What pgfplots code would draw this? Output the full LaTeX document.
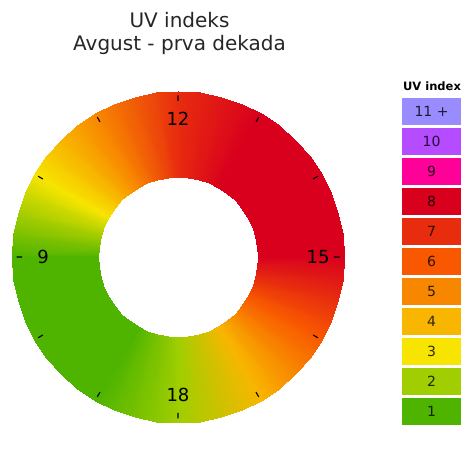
\documentclass[border=0pt]{standalone}
\usepackage{pgfplots}
\usepackage{pgfplotstable}
\pgfplotsset{compat=1.18}
\usepackage{fontspec}
\setmainfont{DejaVu Sans}

% UV index palette
\definecolor{uv1}{HTML}{4EB400}
\definecolor{uv2}{HTML}{A0CE00}
\definecolor{uv3}{HTML}{F7E400}
\definecolor{uv4}{HTML}{F8B600}
\definecolor{uv5}{HTML}{F88700}
\definecolor{uv6}{HTML}{F85900}
\definecolor{uv7}{HTML}{E82C0E}
\definecolor{uv8}{HTML}{D8001D}
\definecolor{uv9}{HTML}{FF0099}
\definecolor{uv10}{HTML}{B54CFF}
\definecolor{uv11}{HTML}{998CFF}
\definecolor{titlegray}{HTML}{262626}

% hourly UV index (the dial wraps: 6 sits where 18 does)
\pgfplotstableread{
h uv
6 2
7 1
8 1
9 1
10 3
11 5
12 7
13 8
14 8
15 8
16 6
17 4
18 2
}\uvdata

% ring geometry: hour position, radius (px)
\pgfplotstableread[row sep=\\]{
h r\\
6 80\\ 6 166\\ 6.25 80\\ 6.25 166\\ 6.5 80\\ 6.5 166\\ 6.75 80\\ 6.75 166\\
7 80\\ 7 166\\ 7.25 80\\ 7.25 166\\ 7.5 80\\ 7.5 166\\ 7.75 80\\ 7.75 166\\
8 80\\ 8 166\\ 8.25 80\\ 8.25 166\\ 8.5 80\\ 8.5 166\\ 8.75 80\\ 8.75 166\\
9 80\\ 9 166\\ 9.25 80\\ 9.25 166\\ 9.5 80\\ 9.5 166\\ 9.75 80\\ 9.75 166\\
10 80\\ 10 166\\ 10.25 80\\ 10.25 166\\ 10.5 80\\ 10.5 166\\ 10.75 80\\ 10.75 166\\
11 80\\ 11 166\\ 11.25 80\\ 11.25 166\\ 11.5 80\\ 11.5 166\\ 11.75 80\\ 11.75 166\\
12 80\\ 12 166\\ 12.25 80\\ 12.25 166\\ 12.5 80\\ 12.5 166\\ 12.75 80\\ 12.75 166\\
13 80\\ 13 166\\ 13.25 80\\ 13.25 166\\ 13.5 80\\ 13.5 166\\ 13.75 80\\ 13.75 166\\
14 80\\ 14 166\\ 14.25 80\\ 14.25 166\\ 14.5 80\\ 14.5 166\\ 14.75 80\\ 14.75 166\\
15 80\\ 15 166\\ 15.25 80\\ 15.25 166\\ 15.5 80\\ 15.5 166\\ 15.75 80\\ 15.75 166\\
16 80\\ 16 166\\ 16.25 80\\ 16.25 166\\ 16.5 80\\ 16.5 166\\ 16.75 80\\ 16.75 166\\
17 80\\ 17 166\\ 17.25 80\\ 17.25 166\\ 17.5 80\\ 17.5 166\\ 17.75 80\\ 17.75 166\\
18 80\\ 18 166\\
}\ringgeom

% colormap along the dial: colour of each hour's UV value
\def\ringmap{}
\pgfplotstableforeachcolumnelement{uv}\of\uvdata\as\uvval{%
  \pgfplotstablegetelem{\pgfplotstablerow}{h}\of\uvdata
  \xdef\ringmap{\ringmap color(\pgfplotsretval cm)=(uv\uvval) }%
}
\edef\tmp{\noexpand\pgfplotsset{colormap={uvring}{\ringmap}}}\tmp

\tikzset{
  legendnum/.style={font=\fontsize{14bp}{16bp}\selectfont, text=black, text opacity=0.8},
  hourlab/.style={font=\fontsize{18bp}{20bp}\selectfont},
}

\begin{document}
\begin{tikzpicture}
\begin{axis}[
  width=474bp, height=458bp, scale only axis,
  xmin=-178, xmax=296, ymin=-201, ymax=257,
  hide axis, clip=false,
  colormap name=uvring,
  point meta min=6, point meta max=18,
]
\addplot[surf, shader=interp, mesh/rows=49, mesh/cols=2, point meta=explicit]
  table[x expr={\thisrow{r}*cos(450-30*\thisrow{h})},
        y expr={\thisrow{r}*sin(450-30*\thisrow{h})},
        meta=h] {\ringgeom};

% hour ticks
\addplot[black, line width=1.1bp, unbounded coords=jump] coordinates {
  (0,156) (0,161.5) (nan,nan)
  (78,135.1) (80.75,139.86) (nan,nan)
  (135.1,78) (139.86,80.75) (nan,nan)
  (156,0) (161.5,0) (nan,nan)
  (135.1,-78) (139.86,-80.75) (nan,nan)
  (78,-135.1) (80.75,-139.86) (nan,nan)
  (0,-156) (0,-161.5) (nan,nan)
  (-78,-135.1) (-80.75,-139.86) (nan,nan)
  (-135.1,-78) (-139.86,-80.75) (nan,nan)
  (-156,0) (-161.5,0) (nan,nan)
  (-135.1,78) (-139.86,80.75) (nan,nan)
  (-78,135.1) (-80.75,139.86)
};

\node[hourlab] at (axis cs:0,138) {12};
\node[hourlab] at (axis cs:140,0) {15};
\node[hourlab] at (axis cs:0,-138) {18};
\node[hourlab] at (axis cs:-135,0) {9};

% title
\node[anchor=base, text=titlegray, font=\fontsize{20bp}{23bp}\selectfont] at (axis cs:1.5,229.7) {UV indeks};
\node[anchor=base, text=titlegray, font=\fontsize{20bp}{23bp}\selectfont] at (axis cs:1.5,206.3) {Avgust - prva dekada};

% legend boxes
\addplot[fill=uv11, draw=none] coordinates {(224,159) (283,159) (283,132) (224,132)};
\addplot[fill=uv10, draw=none] coordinates {(224,129) (283,129) (283,102) (224,102)};
\addplot[fill=uv9, draw=none] coordinates {(224,99) (283,99) (283,72) (224,72)};
\addplot[fill=uv8, draw=none] coordinates {(224,69) (283,69) (283,42) (224,42)};
\addplot[fill=uv7, draw=none] coordinates {(224,39) (283,39) (283,12) (224,12)};
\addplot[fill=uv6, draw=none] coordinates {(224,9) (283,9) (283,-18) (224,-18)};
\addplot[fill=uv5, draw=none] coordinates {(224,-21) (283,-21) (283,-48) (224,-48)};
\addplot[fill=uv4, draw=none] coordinates {(224,-51) (283,-51) (283,-78) (224,-78)};
\addplot[fill=uv3, draw=none] coordinates {(224,-81) (283,-81) (283,-108) (224,-108)};
\addplot[fill=uv2, draw=none] coordinates {(224,-111) (283,-111) (283,-138) (224,-138)};
\addplot[fill=uv1, draw=none] coordinates {(224,-141) (283,-141) (283,-168) (224,-168)};

\node[font=\bfseries\fontsize{11.5bp}{13bp}\selectfont] at (axis cs:254,171) {UV index};
\node[legendnum] at (axis cs:253.5,145.5) {11 +};
\node[legendnum] at (axis cs:253.5,115.5) {10};
\node[legendnum] at (axis cs:253.5,85.5) {9};
\node[legendnum] at (axis cs:253.5,55.5) {8};
\node[legendnum] at (axis cs:253.5,25.5) {7};
\node[legendnum] at (axis cs:253.5,-4.5) {6};
\node[legendnum] at (axis cs:253.5,-34.5) {5};
\node[legendnum] at (axis cs:253.5,-64.5) {4};
\node[legendnum] at (axis cs:253.5,-94.5) {3};
\node[legendnum] at (axis cs:253.5,-124.5) {2};
\node[legendnum] at (axis cs:253.5,-154.5) {1};
\end{axis}
\pgfresetboundingbox
\path (current axis.south west) rectangle (current axis.north east);
\end{tikzpicture}
\end{document}
